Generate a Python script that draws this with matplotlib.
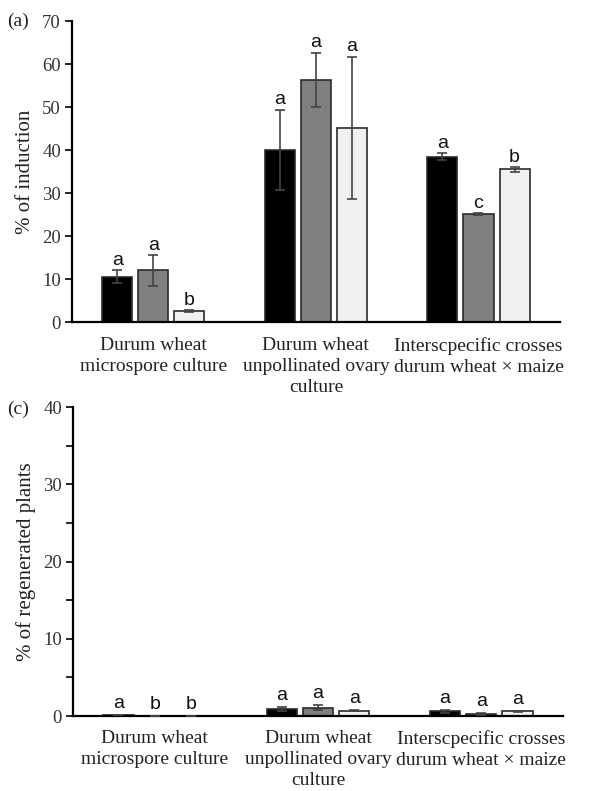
import matplotlib
matplotlib.use("Agg")
import matplotlib.pyplot as plt
import numpy as np

categories = ["Durum wheat\nmicrospore culture",
              "Durum wheat\nunpollinated ovary\nculture",
              "Interscpecific crosses\ndurum wheat \u00d7 maize"]

# panel (a): % of induction, three series per category
induction = {
    "s1": [10.5, 40.0, 38.4],
    "s2": [12.0, 56.3, 25.1],
    "s3": [2.5, 45.1, 35.5],
}
induction_err = {
    "s1": [1.5, 9.4, 0.8],
    "s2": [3.6, 6.3, 0.2],
    "s3": [0.2, 16.6, 0.5],
}
induction_letters = {
    "s1": ["a", "a", "a"],
    "s2": ["a", "a", "c"],
    "s3": ["b", "a", "b"],
}

# panel (c): % of regenerated plants
regen = {
    "s1": [0.1, 0.9, 0.6],
    "s2": [0.0, 1.1, 0.25],
    "s3": [0.0, 0.7, 0.6],
}
regen_err = {
    "s1": [0.0, 0.3, 0.15],
    "s2": [0.0, 0.35, 0.15],
    "s3": [0.0, 0.1, 0.1],
}
regen_letters = {
    "s1": ["a", "a", "a"],
    "s2": ["b", "a", "a"],
    "s3": ["b", "a", "a"],
}

series = ["s1", "s2", "s3"]
face = {"s1": "#000000", "s2": "#7f7f7f", "s3": "#f0f0f0"}
serif = "Liberation Serif"

fig = plt.figure(figsize=(5.92, 7.91), dpi=100)
ax1 = fig.add_axes([0.1216, 0.5929, 0.824, 0.3805])
ax2 = fig.add_axes([0.1233, 0.0948, 0.8277, 0.3906])

x = np.arange(len(categories))
width = 0.185
offs = [-0.222, 0.0, 0.222]


def draw(ax, vals, errs, letters, ymax, ylabel, major, minor, letter_off, cat_pad):
    for i, s in enumerate(series):
        xs = x + offs[i]
        ax.bar(xs, vals[s], width=width, color=face[s], edgecolor="#2a2a2a",
               linewidth=1.2, zorder=2)
        e = np.array(errs[s])
        ax.errorbar(xs, vals[s], yerr=e, fmt="none", ecolor="#444444",
                    elinewidth=1.2, capsize=3.5, capthick=1.2, zorder=3)
        for xi, v, ee, lt in zip(xs, vals[s], e, letters[s]):
            ax.annotate(lt, (xi, v + ee), xytext=(0, letter_off),
                        textcoords="offset points", ha="center", va="bottom",
                        fontsize=14, family="Liberation Sans", color="#111111")
    ax.set_xlim(-0.5, 2.5)
    ax.set_ylim(0, ymax)
    ax.set_yticks(np.arange(0, ymax + 0.1, major))
    if minor:
        ax.set_yticks(np.arange(0, ymax + 0.1, minor), minor=True)
    for sp in ["top", "right"]:
        ax.spines[sp].set_visible(False)
    ax.spines["left"].set_linewidth(1.6)
    ax.spines["bottom"].set_linewidth(1.6)
    ax.tick_params(axis="y", which="both", direction="out", length=5,
                   width=1.2, labelsize=13.5, pad=3)
    for lab in ax.get_yticklabels():
        lab.set_family(serif)
        lab.set_color("#333333")
    ax.set_xticks(x)
    ax.set_xticklabels(categories, family=serif, fontsize=14,
                       color="#222222", linespacing=1.3)
    ax.tick_params(axis="x", length=0, pad=cat_pad)
    ax.set_ylabel(ylabel, family=serif, fontsize=15, color="#222222", labelpad=5)


draw(ax1, induction, induction_err, induction_letters, 70, "% of induction",
     10, None, 1, 11)
draw(ax2, regen, regen_err, regen_letters, 40, "% of regenerated plants",
     10, 5, 2, 10)

fig.text(0.012, 0.973, "(a)", family=serif, fontsize=14, color="#222222",
         va="center")
fig.text(0.012, 0.482, "(c)", family=serif, fontsize=14, color="#222222",
         va="center")

fig.savefig("out.png", dpi=100)
